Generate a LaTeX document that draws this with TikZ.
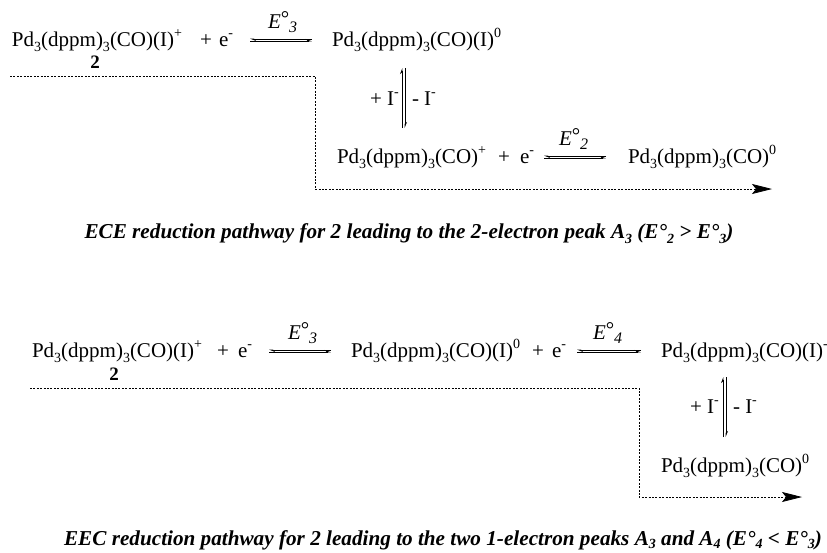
\documentclass[tikz,border=0pt]{standalone}
\usepackage{fontspec}
\setmainfont{Liberation Serif}
\usetikzlibrary{arrows.meta}
\newcommand{\dn}[1]{\raisebox{-0.55ex}{\fontsize{14}{14}\selectfont #1}}
\newcommand{\cdn}[1]{\raisebox{-0.35ex}{\fontsize{14}{14}\selectfont #1}}
\newcommand{\up}[1]{\raisebox{0.85ex}{\fontsize{14}{14}\selectfont #1}}
\newcommand{\Pdcore}{Pd\dn{3}(dppm)\dn{3}(CO)}
\newcommand{\Eo}[1]{\textit{E}\raisebox{0.3ex}{\fontsize{21}{21}\selectfont°}\raisebox{-0.45ex}{\fontsize{16}{16}\selectfont\textit{#1}}}
\tikzset{
  x=1pt,y=-1pt,
  chem/.style={anchor=base west,inner sep=0pt,outer sep=0pt,font=\fontsize{21}{23}\selectfont},
  pot/.style={chem},
  captxt/.style={anchor=base,inner sep=0pt,font=\fontsize{21.2}{23}\selectfont\bfseries\itshape},
  num/.style={anchor=base,inner sep=0pt,font=\fontsize{19}{21}\selectfont\bfseries},
  eqline/.style={line width=0.9pt,-{Stealth[harpoon,length=5pt,width=4pt]}},
  path2/.style={line width=0.8pt,dash pattern=on 2pt off 1.4pt,-{Stealth[length=20pt,width=10pt,inset=4pt,sep=0pt]}},
}
\begin{document}
\begin{tikzpicture}
\useasboundingbox (0,0) rectangle (827,552);
% top scheme
\node[chem] (a1) at (12,46) {\Pdcore(I)\up{+}};
\node[chem] (a2) at (200,46) {+};
\node[chem] (a3) at (219,46) {e\up{-}};
\node[num] (a4) at (95,68) {2};
\coordinate (a5l) at (250,39); \coordinate (a5r) at (312,39);
\coordinate (a5l2) at (250,41); \coordinate (a5r2) at (312,41);
\draw[eqline] (a5l2) -- (a5r2);
\draw[eqline] (a5r) -- (a5l);
\node[pot] (a6) at (268,28) {\Eo{3}};
\node[chem] (a7) at (332,46) {\Pdcore(I)\up{0}};
\coordinate (v1t) at (402,68); \coordinate (v1b) at (402,128);
\coordinate (v2t) at (405,68); \coordinate (v2b) at (405,128);
\draw[eqline] (v1b) -- (v1t);
\draw[eqline] (v2t) -- (v2b);
\node[chem] (a8) at (370,105) {+ I\up{-}};
\node[chem] (a9) at (412,105) {- I\up{-}};
\node[chem] (b1) at (337,163) {\Pdcore\up{+}};
\node[chem] (b2) at (498,163) {+};
\node[chem] (b3) at (520,163) {e\up{-}};
\coordinate (b4l) at (544,156); \coordinate (b4r) at (606,156);
\coordinate (b4l2) at (544,158); \coordinate (b4r2) at (606,158);
\draw[eqline] (b4l2) -- (b4r2);
\draw[eqline] (b4r) -- (b4l);
\node[pot] (b5) at (559,145) {\Eo{2}};
\node[chem] (b6) at (628,163) {\Pdcore\up{0}};
\coordinate (p1) at (10,76); \coordinate (p2) at (315,76);
\coordinate (p3) at (315,189); \coordinate (p4) at (772,189);
\draw[path2] (p1) -- (p2) -- (p3) -- (p4);
\node[captxt] (c1) at (409,238) {ECE reduction pathway for 2 leading to the 2-electron peak A\dn{3} (E°\dn{2} > E°\dn{3})};
% bottom scheme
\node[chem] (d1) at (32,357) {\Pdcore(I)\up{+}};
\node[chem] (d2) at (217,357) {+};
\node[chem] (d3) at (238,357) {e\up{-}};
\node[num] (d4) at (114,380) {2};
\coordinate (d5l) at (269,350); \coordinate (d5r) at (331,350);
\coordinate (d5l2) at (269,352); \coordinate (d5r2) at (331,352);
\draw[eqline] (d5l2) -- (d5r2);
\draw[eqline] (d5r) -- (d5l);
\node[pot] (d6) at (288,339) {\Eo{3}};
\node[chem] (d7) at (351,357) {\Pdcore(I)\up{0}};
\node[chem] (d8) at (532,357) {+};
\node[chem] (d9) at (552,357) {e\up{-}};
\coordinate (e1l) at (577,350); \coordinate (e1r) at (641,350);
\coordinate (e1l2) at (577,352); \coordinate (e1r2) at (641,352);
\draw[eqline] (e1l2) -- (e1r2);
\draw[eqline] (e1r) -- (e1l);
\node[pot] (e2) at (593,339) {\Eo{4}};
\node[chem] (e3) at (661,357) {\Pdcore(I)\up{-}};
\coordinate (w1t) at (723,377); \coordinate (w1b) at (723,437);
\coordinate (w2t) at (726,377); \coordinate (w2b) at (726,437);
\draw[eqline] (w1b) -- (w1t);
\draw[eqline] (w2t) -- (w2b);
\node[chem] (e4) at (690,413) {+ I\up{-}};
\node[chem] (e5) at (733,413) {- I\up{-}};
\node[chem] (e6) at (661,472) {\Pdcore\up{0}};
\coordinate (q1) at (30,388); \coordinate (q2) at (639,388);
\coordinate (q3) at (639,497); \coordinate (q4) at (802,497);
\draw[path2] (q1) -- (q2) -- (q3) -- (q4);
\node[captxt] (c2) at (443,545) {EEC reduction pathway for 2 leading to the two 1-electron peaks A\cdn{3} and A\cdn{4} (E°\cdn{4} < E°\cdn{3})};
\end{tikzpicture}
\end{document}
